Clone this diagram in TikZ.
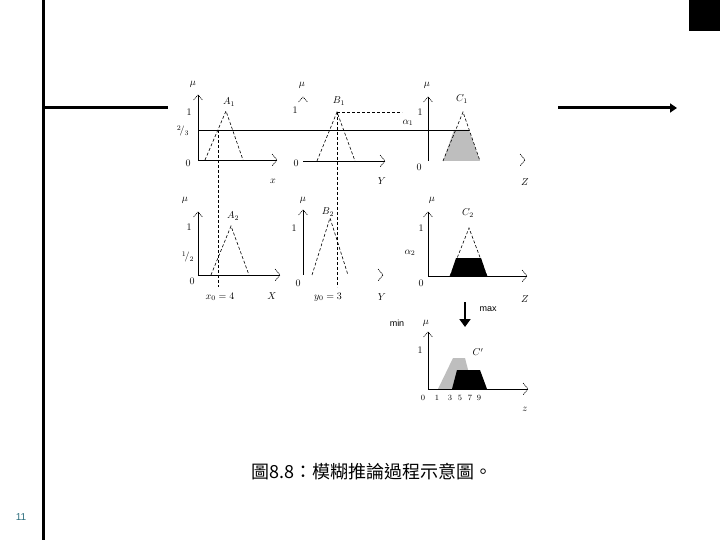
\documentclass[tikz,border=0pt]{standalone}
\usepackage{fontspec}
\newfontfamily\cjk{Noto Sans CJK TC}
\newfontfamily\arialfont{Liberation Sans}
\usetikzlibrary{arrows.meta}
\definecolor{pagenum}{RGB}{45,110,125}
\definecolor{cutgray}{RGB}{190,190,190}
\tikzset{
  axisline/.style={line width=0.9pt},
  caret/.style={line width=0.6pt,dash pattern=on 1.2pt off 0.8pt},
  tri/.style={line width=0.6pt,dash pattern=on 3pt off 2pt},
  guide/.style={line width=0.7pt,dash pattern=on 3pt off 2pt},
  lbl/.style={inner sep=0pt,font=\fontsize{10}{11}\selectfont},
  frame/.style={line width=3pt}
}
\begin{document}
\begin{tikzpicture}[x=1pt,y=-1pt]
\useasboundingbox (0,0) rectangle (720,540);
% page frame
\draw[frame] (43,0) -- (43,540);
\draw[frame] (43,108) -- (168,108);
\draw[frame,-{Triangle[length=7pt,width=9pt]}] (558,108) -- (677,108);
\fill (689,0) rectangle (720,31);
\node[text=pagenum,font=\arialfont\fontsize{10}{11}\selectfont] (pg) at (21,517) {11};
% cut fills
\fill[cutgray] (443,161) -- (454,130) -- (469,130) -- (480,161) -- cycle;
\fill[black] (450,276) -- (456,258) -- (481,258) -- (487,276) -- cycle;
\fill[cutgray] (438,389) -- (453,358) -- (465,358) -- (473,389) -- cycle;
\fill[black] (452,389) -- (457,370) -- (480,370) -- (487,389) -- cycle;
% triangles
\draw[tri] (205,160) -- (226,111) -- (243,160);
\draw[tri] (317,161) -- (337,112) -- (355,161);
\draw[tri] (443,161) -- (463,112) -- (480,161);
\draw[tri] (211,275) -- (231,226) -- (249,275);
\draw[tri] (312,275) -- (330,218) -- (348,275);
\draw[tri] (450,276) -- (469,228) -- (487,276);
% axes
\draw[axisline] (198,95) -- (198,160) -- (277,160);
\draw[axisline] (303,161) -- (385,161);
\draw[axisline] (428,97) -- (428,161);
\draw[axisline] (198,212) -- (198,275) -- (280,275);
\draw[axisline] (303,210) -- (303,275);
\draw[axisline] (428,212) -- (428,276) -- (527,276);
\draw[axisline] (428,332) -- (428,389) -- (528,389);
\foreach \x/\y in {198/95,303/97,428/97,198/212,303/210,428/212,428/332}
  \draw[caret] (\x-4.5,\y+5) -- (\x,\y) -- (\x+4.5,\y+5);
\foreach \x/\y in {277/160,385/161,525/160,280/275,383/275,527/276,528/389}
  \draw[caret] (\x-5,\y-6) -- (\x,\y) -- (\x-5,\y+6);
% rule lines
\draw[line width=0.9pt] (198,130) -- (469,130);
\draw[guide] (218,130) -- (218,287);
\draw[guide] (337,112) -- (337,287);
\draw[guide] (337,112) -- (402,112);
% max arrow
\draw[line width=2.5pt,-{Triangle[length=8pt,width=11pt]}] (465,302) -- (465,327);
% labels: first row
\node[lbl] (muA1) at (193,84) {$\mu$};
\node[lbl] (oneA1) at (189,112) {1};
\node[lbl] (cutA1) at (183,131) {$^2\!/_3$};
\node[lbl] (zeroA1) at (188,163) {0};
\node[lbl] (labA1) at (229,102) {$A_1$};
\node[lbl] (axA1) at (273,181) {$x$};
\node[lbl] (muB1) at (302,85) {$\mu$};
\node[lbl] (oneB1) at (295,110) {1};
\node[lbl] (zeroB1) at (296,163) {0};
\node[lbl] (labB1) at (339,101) {$B_1$};
\node[lbl] (axB1) at (382,181) {$Y$};
\node[lbl] (alpha1) at (408,123) {$\alpha_1$};
\node[lbl] (muC1) at (427,85) {$\mu$};
\node[lbl] (oneC1) at (420,112) {1};
\node[lbl] (zeroC1) at (419,167) {0};
\node[lbl] (labC1) at (462,99) {$C_1$};
\node[lbl] (axC1) at (525,182) {$Z$};
% labels: second row
\node[lbl] (muA2) at (185,200) {$\mu$};
\node[lbl] (oneA2) at (189,227) {1};
\node[lbl] (cutA2) at (188,257) {$^1\!/_2$};
\node[lbl] (zeroA2) at (192,281) {0};
\node[lbl] (labA2) at (233,216) {$A_2$};
\node[lbl] (xnull) at (220,297) {$x_0=4$};
\node[lbl] (axA2) at (272,296) {$X$};
\node[lbl] (muB2) at (303,200) {$\mu$};
\node[lbl] (oneB2) at (294,228) {1};
\node[lbl] (zeroB2) at (298,283) {0};
\node[lbl] (labB2) at (328,212) {$B_2$};
\node[lbl] (ynull) at (328,297) {$y_0=3$};
\node[lbl] (axB2) at (382,297) {$Y$};
\node[lbl] (muC2) at (432,200) {$\mu$};
\node[lbl] (oneC2) at (421,228) {1};
\node[lbl] (alpha2) at (410,253) {$\alpha_2$};
\node[lbl] (zeroC2) at (421,283) {0};
\node[lbl] (labC2) at (468,213) {$C_2$};
\node[lbl] (axC2) at (525,299) {$Z$};
% result
\node[lbl,font=\arialfont\fontsize{9}{10}\selectfont] (maxlab) at (488,309) {max};
\node[lbl,font=\arialfont\fontsize{9}{10}\selectfont] (minlab) at (397,323) {min};
\node[lbl] (muC) at (426,323) {$\mu$};
\node[lbl] (oneC) at (420,350) {1};
\node[lbl] (labC) at (478,352) {$C'$};
\foreach \x/\t in {423/0,437/1,450/3,460/5,470/7,479/9}
  \node[lbl,font=\fontsize{8}{9}\selectfont] (tick\t) at (\x,398) {\t};
\node[lbl] (axC) at (525,409) {$z$};
% caption
\node[font=\cjk\fontsize{18}{20}\selectfont,inner sep=0pt] (cap) at (372,472) {圖8.8：模糊推論過程示意圖。};
\end{tikzpicture}
\end{document}
